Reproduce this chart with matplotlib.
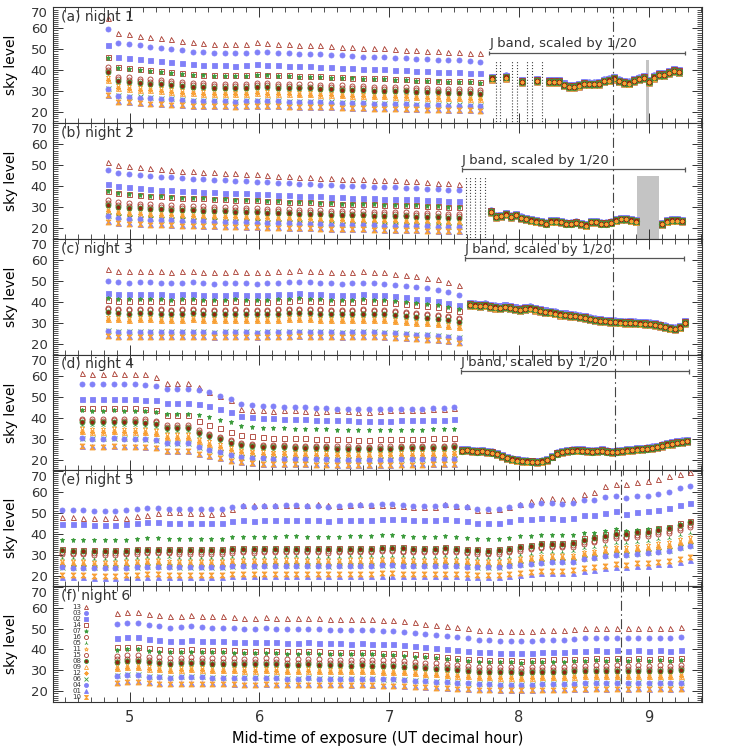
import numpy as np
import matplotlib.pyplot as plt
from matplotlib.ticker import MultipleLocator, FixedLocator

# filter/series labels, in the legend order
series = ['13', '03', '02', '14', '07', '16', '05', '11', '15', '08', '09', '12', '06', '04', '01', '10']

# exposure cadence of the L-band sequence on each night
l_start = [4.83, 4.83, 4.83, 4.63, 4.48, 4.90]
l_step = 0.082
l_count = [36, 34, 34, 36, 60, 54]

# sky level of each series at the reference exposure, per night
lev1 = [58, 53.2, 46.5, 41.5, 41, 37, 34.8, 33, 35.8, 34.8, 31.6, 31.5, 28.2, 27.6, 25.2, 25]
lev2 = [51.5, 47.5, 41, 37.5, 37.5, 33.3, 31, 29.5, 32, 31, 28.3, 28, 26.2, 25.5, 23.2, 23]
lev3 = [55.5, 50, 44.3, 41, 42, 37, 35, 33, 36.5, 35, 32, 31.5, 26.5, 26, 24, 23.7]
lev4 = [61.3, 56.2, 49.1, 44.8, 43.5, 39.6, 36.5, 35, 38.8, 38, 33.5, 33.2, 30.3, 30.2, 26.5, 26.4]
lev5 = [47.9, 51.4, 44.7, 32.5, 37.1, 30.4, 28.5, 27, 31, 32, 26, 25.5, 24.3, 24, 19.3, 20.3]
lev6 = [57.5, 52, 45.3, 41, 39.8, 37, 34.5, 32.5, 35.3, 34.2, 31.2, 30.8, 27.8, 27.3, 24.5, 24.2]

# relative time profile of the sky level (1 = reference exposure)
prof1 = [1.12, 1.00, 0.99, 0.975, 0.965, 0.955, 0.945, 0.93, 0.92, 0.915, 0.91, 0.91,
         0.905, 0.91, 0.92, 0.915, 0.91, 0.905, 0.90, 0.90, 0.895, 0.89, 0.885, 0.88,
         0.875, 0.87, 0.87, 0.865, 0.86, 0.855, 0.85, 0.845, 0.84, 0.84, 0.835, 0.83]
prof2 = [1.0, 0.975, 0.96, 0.95, 0.94, 0.935, 0.93, 0.92, 0.915, 0.91, 0.905, 0.9,
         0.895, 0.89, 0.885, 0.88, 0.875, 0.87, 0.865, 0.86, 0.855, 0.85, 0.845, 0.84,
         0.84, 0.835, 0.83, 0.83, 0.825, 0.82, 0.815, 0.81, 0.805, 0.80]
prof3 = [1.0, 0.99, 0.985, 0.99, 0.99, 0.985, 0.98, 0.985, 0.99, 0.98, 0.975, 0.98,
         0.985, 0.98, 0.975, 0.98, 0.985, 0.99, 0.995, 0.99, 0.985, 0.98, 0.975, 0.98,
         0.985, 0.98, 0.975, 0.965, 0.955, 0.94, 0.93, 0.915, 0.895, 0.87]
# night 4: bright filters (A), filter 13 (C) and the rest (B) fade differently
prof4a = [1.0, 0.995, 0.995, 1.0, 0.995, 0.995, 0.99, 0.985, 0.96, 0.96, 0.96, 0.945,
          0.93, 0.9, 0.87, 0.83, 0.82, 0.81, 0.81, 0.805, 0.80, 0.80, 0.795, 0.795,
          0.79, 0.79, 0.785, 0.785, 0.785, 0.785, 0.79, 0.79, 0.79, 0.795, 0.795, 0.80]
prof4b = [1.0, 0.995, 0.995, 1.0, 0.995, 0.995, 0.99, 0.975, 0.92, 0.92, 0.92, 0.86,
          0.82, 0.78, 0.74, 0.71, 0.695, 0.685, 0.68, 0.68, 0.675, 0.675, 0.67, 0.67,
          0.665, 0.665, 0.66, 0.66, 0.665, 0.665, 0.67, 0.67, 0.67, 0.675, 0.675, 0.68]
prof4c = [1.0, 0.995, 0.995, 1.0, 0.995, 0.995, 0.995, 0.97, 0.92, 0.92, 0.92, 0.89,
          0.85, 0.82, 0.79, 0.72, 0.71, 0.71, 0.705, 0.71, 0.71, 0.705, 0.70, 0.705,
          0.71, 0.705, 0.70, 0.70, 0.705, 0.71, 0.71, 0.715, 0.715, 0.72, 0.72, 0.725]
group4 = ['C', 'A', 'A', 'B', 'A', 'B', 'B', 'B', 'B', 'B', 'B', 'B', 'B', 'B', 'B', 'B']
# night 5: upper filters (U) and the rest (L); filter 13 read on its own
prof5u = [1.0, 0.993, 0.993, 0.99, 0.99, 0.99, 0.993, 1.01,
          1.018, 1.018, 1.01, 1.007, 1.007, 1.007, 1.007, 1.007,
          1.03, 1.036, 1.03, 1.036, 1.036, 1.042, 1.042, 1.036,
          1.036, 1.03, 1.036, 1.042, 1.042, 1.042, 1.054,
          1.054, 1.047, 1.036, 1.036, 1.036, 1.047, 1.036,
          1.025, 1.011, 1.007, 1.011, 1.025, 1.047, 1.047, 1.06,
          1.06, 1.054, 1.06, 1.09, 1.09, 1.116, 1.132,
          1.107, 1.125, 1.132, 1.15, 1.168, 1.204, 1.224]
prof5l = [1.0, 0.99, 0.99, 0.985, 0.985, 0.985, 0.99, 1.0,
          1.01, 1.01, 1.005, 1.0, 1.0, 1.0, 1.0, 1.0,
          1.015, 1.02, 1.015, 1.02, 1.02, 1.025, 1.025, 1.02,
          1.02, 1.015, 1.02, 1.025, 1.025, 1.025, 1.035,
          1.035, 1.03, 1.02, 1.02, 1.02, 1.03, 1.02,
          1.01, 1.0, 0.995, 1.0, 1.02, 1.05, 1.07, 1.09,
          1.1, 1.1, 1.11, 1.16, 1.18, 1.22, 1.25,
          1.24, 1.27, 1.28, 1.31, 1.33, 1.38, 1.42]
group5 = ['S', 'U', 'U', 'L', 'U', 'L', 'L', 'L', 'L', 'L', 'L', 'L', 'L', 'L', 'L', 'L']
n5_f13 = [47.9, 47.9, 47.5, 47.5, 47.5, 47.9, 47.5, 48.5, 49.1, 49.8, 50.5, 50.5,
          49.8, 49.8, 49.5, 49.8, 51.6, 53.5, 53.5, 53.8, 53.8, 53.5, 53.5, 53.8,
          54.0, 53.5, 53.2, 53.5, 54.2, 53.8, 53.8, 53.8, 53.1, 52.6, 52.6, 52.6,
          54.2, 53.4, 53.1, 51.5, 51.4, 51.8, 52.6, 54.2, 55.5, 56.6, 57.1, 56.6,
          56.6, 59.0, 60.1, 62.5, 63.8, 63.8, 64.5, 65.3, 66.3, 67.4, 68.5, 69.5]
prof6 = [1.0, 1.01, 1.01, 0.99, 0.98, 0.97,
         0.975, 0.98, 0.975, 0.97, 0.97, 0.965, 0.96,
         0.96, 0.965, 0.96, 0.955, 0.955, 0.96, 0.955, 0.95,
         0.95, 0.945, 0.95, 0.945, 0.94, 0.94, 0.93,
         0.92, 0.91, 0.90, 0.89, 0.88, 0.87,
         0.86, 0.855, 0.85, 0.85, 0.845, 0.85, 0.855,
         0.86, 0.86, 0.865, 0.87, 0.875, 0.87, 0.875,
         0.87, 0.875, 0.87, 0.875, 0.87, 0.88]

# J band (scaled by 1/20): start time, cadence and level
j_step = 0.0385
j1_iso_t = [7.79, 7.90, 8.02, 8.14]
j1_iso = [36.3, 36.8, 34.8, 35.2]
j1_t0 = 8.23
j1 = [34.8, 34.8, 34.8, 33.2, 32.3, 32.3, 32.9, 33.8, 33.6, 33.6, 33.8, 35.0, 35.4, 36.3,
      35.0, 34.3, 34.0, 35.2, 36.0, 36.6, 34.8, 36.8, 38.0, 38.0, 39.1, 40.0, 39.5]
j2_t0 = 7.78
j2 = [27.9, 25.5, 25.8, 26.6, 25.5, 26.3, 25.0, 24.4, 23.8, 23.3, 23.0, 22.2, 23.3, 23.3,
      23.0, 22.2, 22.2, 22.7, 21.9, 21.4, 23.0, 23.0, 22.2, 22.2, 22.7, 23.8, 24.4, 24.4,
      23.8, 23.3]
j2b_t0 = 9.10
j2b = [21.9, 23.3, 23.8, 23.8, 23.5]
j3_t0 = 7.62
j3 = [38.9, 38.6, 38.4, 38.6, 38.0, 37.6, 37.3, 37.8, 37.4, 36.8, 36.4, 36.9, 37.2, 36.6,
      36.0, 35.4, 35.2, 34.8, 34.2, 34.0, 33.6, 33.4, 33.0, 32.6, 32.0, 31.6, 31.2, 31.0,
      30.8, 30.6, 30.4, 30.2, 30.3, 30.1, 30.0, 29.8, 29.6, 29.3, 28.8, 28.2, 27.6, 27.3,
      28.0, 30.3]
j4_t0 = 7.56
j4 = [24.5, 24.8, 24.3, 24.0, 24.2, 23.8, 23.5, 22.8, 21.8, 20.8, 20.2, 19.8, 19.5, 19.3,
      19.2, 19.0, 19.3, 20.0, 21.5, 23.0, 23.8, 24.2, 24.4, 24.6, 24.5, 24.3, 24.0, 24.2,
      24.5, 24.0, 23.8, 24.0, 24.3, 24.6, 24.8, 25.0, 25.2, 25.4, 25.8, 26.2, 26.8, 27.4,
      27.8, 28.3, 28.6, 29.0]
j_scale = [1.0, 1.02, 1.015, 1.0, 1.0, 1.0, 0.995, 0.99, 1.0, 0.995, 0.99, 0.99, 0.985, 0.985, 0.98, 0.98]

# J-band span markers, gaps (dotted) and bad exposures (grey bars)
j_span = [(7.77, 9.28, 48.2), (7.56, 9.28, 48.0), (7.58, 9.27, 60.8), (7.55, 9.31, 62.1)]
dots1 = [7.823, 7.856, 7.943, 7.981, 8.061, 8.100, 8.177]
dots2 = [7.587, 7.625, 7.664, 7.702, 7.740]
bad_center = [8.987, 8.995]
bad_width = [0.02, 0.167]
bad_top = [44.8, 44.9]
dashdot_t = [8.725, 8.725, 8.725, 8.735, 8.785, 8.785]
titles = ['(a) night 1', '(b) night 2', '(c) night 3', '(d) night 4', '(e) night 5', '(f) night 6']

BROWN = '#a8382c'
DARK = '#962410'
BLUE = '#8080f8'
GREEN = '#3b9b3b'
ORANGE = '#f8a035'
hourglass = [(-1, 1), (1, 1), (-1, -1), (1, -1), (-1, 1)]
# marker, edge colour, face colour
style = {
    '13': ('^', BROWN, 'none'), '03': ('o', BLUE, BLUE), '02': ('s', BLUE, BLUE),
    '14': ('s', BROWN, 'none'), '07': ('*', GREEN, GREEN), '16': ('o', BROWN, 'none'),
    '05': ('2', GREEN, GREEN), '11': ('*', ORANGE, 'none'), '15': ('o', BROWN, 'none'),
    '08': ('o', GREEN, DARK), '09': ('^', ORANGE, 'none'), '12': ((8, 2, 0), ORANGE, ORANGE),
    '06': ('x', GREEN, GREEN), '04': ('o', BLUE, BLUE), '01': ('^', BLUE, BLUE),
    '10': (hourglass, ORANGE, ORANGE),
}
# drawing order of the overlapping J-band points (back to front)
j_order = ['03', '02', '04', '01', '10', '09', '11', '13', '14', '16', '15', '07', '05', '06', '08', '12']


def draw(ax, t, v, s, ms=3.6):
    mk, ec, fc = style[s]
    return ax.plot(t, v, ls='none', marker=mk, ms=ms, mec=ec, mfc=fc, mew=0.6, label=s)[0]


plt.rcParams['text.color'] = '#333333'
fig, axes = plt.subplots(6, 1, figsize=(7.47, 7.47), dpi=100, sharex=True)
fig.subplots_adjust(left=0.071, right=0.94, top=0.9906, bottom=0.0602, hspace=0)

levels = [lev1, lev2, lev3, lev4, lev5, lev6]
handles = []
for n, ax in enumerate(axes):
    t = l_start[n] + l_step * np.arange(l_count[n])
    for k, s in enumerate(series):
        if n == 3:
            p = {'A': prof4a, 'B': prof4b, 'C': prof4c}[group4[k]]
            v = levels[n][k] * np.array(p)
        elif n == 4:
            if group5[k] == 'S':
                v = np.array(n5_f13)
            else:
                p = prof5u if group5[k] == 'U' else prof5l
                v = levels[n][k] * np.array(p)
        else:
            p = [prof1, prof2, prof3, None, None, prof6][n]
            v = levels[n][k] * np.array(p)
        h = draw(ax, t, v, s)
        if n == 5:
            handles.append(h)

    # J band
    jsets = []
    if n == 0:
        jsets = [(np.array(j1_iso_t), j1_iso), (j1_t0 + j_step * np.arange(len(j1)), j1)]
    elif n == 1:
        jsets = [(j2_t0 + j_step * np.arange(len(j2)), j2), (j2b_t0 + j_step * np.arange(len(j2b)), j2b)]
    elif n == 2:
        jsets = [(j3_t0 + j_step * np.arange(len(j3)), j3)]
    elif n == 3:
        jsets = [(j4_t0 + j_step * np.arange(len(j4)), j4)]
    for jt, jv in jsets:
        for s in j_order:
            k = series.index(s)
            size = 4.6 if s == '08' else (2.6 if s == '12' else 4.0)
            draw(ax, jt, np.array(jv) * j_scale[k], s, ms=size)

    if n < 4:
        x0, x1, yb = j_span[n]
        ax.hlines(yb, x0, x1, color='#555555', lw=0.9)
        ax.vlines([x0, x1], yb - 1.1, yb + 1.1, color='#555555', lw=0.9)
        ax.text(x0, yb + 1.3, 'J band, scaled by 1/20', fontsize=9.5, va='bottom', ha='left')
    if n == 0:
        ax.vlines(dots1, 0, 44.8, linestyles=':', color='#444444', lw=0.8)
    if n == 1:
        ax.vlines(dots2, 0, 44.9, linestyles=':', color='#444444', lw=0.8)
    if n < 2:
        ax.bar(bad_center[n], bad_top[n], width=bad_width[n], color='#c4c4c4', zorder=0)

    ax.axvline(dashdot_t[n], color='#444444', lw=0.8, ls=(0, (9, 3, 1.5, 3)))
    ax.text(0.013, 0.975, titles[n], transform=ax.transAxes, va='top', ha='left', fontsize=10)

    ax.set_xlim(4.41, 9.41)
    ax.set_ylim(14.9, 70.2)
    ax.xaxis.set_major_locator(MultipleLocator(1))
    ax.xaxis.set_minor_locator(MultipleLocator(0.1))
    ax.yaxis.set_major_locator(FixedLocator([20, 30, 40, 50, 60, 70]))
    ax.yaxis.set_minor_locator(MultipleLocator(1))
    ax.tick_params(which='both', direction='in', top=True, right=True, colors='#333333')
    ax.tick_params(which='major', length=7, width=0.7)
    ax.tick_params(which='minor', length=3.5, width=0.6)
    ax.tick_params(axis='y', pad=4, labelsize=9.5)
    ax.tick_params(axis='x', pad=6, labelsize=10.5)
    # the top label sits just under the upper frame, as in the original
    ax.yaxis.get_major_ticks()[-1].label1.set_verticalalignment('top')
    for sp in ax.spines.values():
        sp.set_color('#333333')
        sp.set_linewidth(0.8)
    ax.set_ylabel('sky level', fontsize=10)
    ax.yaxis.set_label_coords(-0.054, 0.5)

axes[5].set_xlabel('Mid-time of exposure (UT decimal hour)', fontsize=10.5)
axes[5].legend(handles=handles, loc='upper left', bbox_to_anchor=(0.03, 0.845),
               markerfirst=False, frameon=False, fontsize=5.0, labelspacing=0.0,
               handlelength=0.8, handletextpad=0.3, borderpad=0, borderaxespad=0,
               markerscale=0.8)

fig.savefig('out.png', dpi=100)
